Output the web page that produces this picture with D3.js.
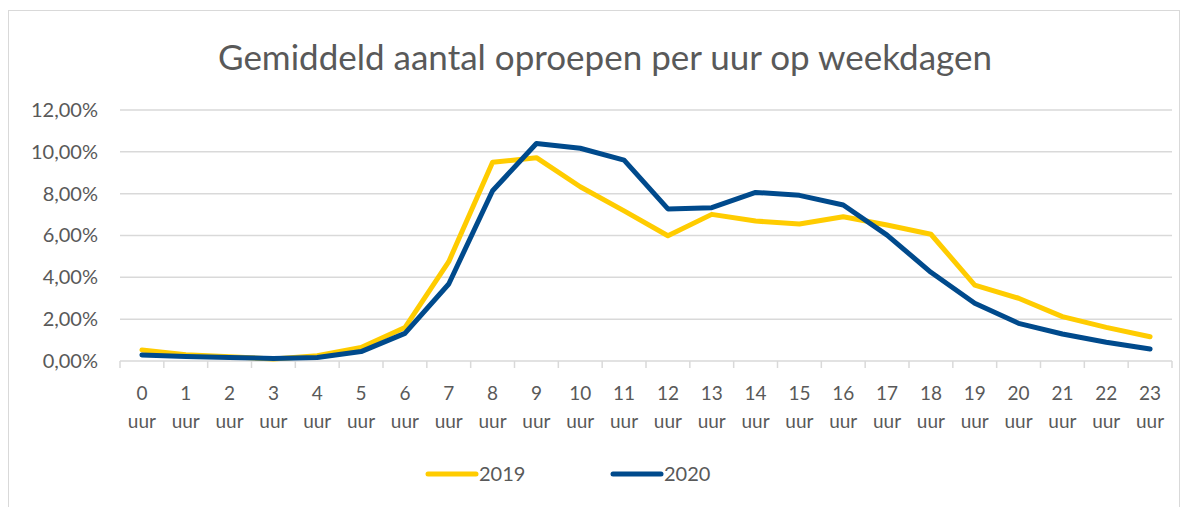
<!DOCTYPE html>
<html>
<head>
<meta charset="utf-8">
<script src="https://cdn.jsdelivr.net/npm/d3@7"></script>
<style>
  body { margin: 0; background: #fff; }
  text { font-family: Lato, "Open Sans", sans-serif; fill: #595959; }
</style>
</head>
<body>
<div id="line-chart"></div>
<script>
const hours = d3.range(0, 24).map(h => `${h}`);
const values2019 = [0.53, 0.3, 0.2, 0.1, 0.25, 0.65, 1.6, 4.75, 9.5, 9.72, 8.33, 7.18, 5.99, 7.01, 6.69, 6.55, 6.9, 6.5, 6.06, 3.63, 3.0, 2.12, 1.61, 1.16];
const values2020 = [0.29, 0.22, 0.17, 0.12, 0.17, 0.45, 1.32, 3.68, 8.14, 10.4, 10.17, 9.6, 7.27, 7.33, 8.06, 7.92, 7.46, 6.02, 4.24, 2.76, 1.8, 1.29, 0.9, 0.57];
const yTicks = [0, 2, 4, 6, 8, 10, 12];
const seriesNames = ["2019", "2020"];
const seriesColors = ["#FFCC00", "#004A8C"];

const W = 1187, H = 507;
const margin = { left: 120, right: 15, top: 110, bottom: 146 };
const width = W - margin.left - margin.right;
const height = H - margin.top - margin.bottom;

const svg = d3.select("#line-chart").append("svg")
    .attr("width", W)
    .attr("height", H);

// chart frame
svg.append("rect")
    .attr("x", 8.5).attr("y", 10.5)
    .attr("width", 1171).attr("height", 510)
    .attr("fill", "none").attr("stroke", "#D9D9D9");

svg.append("text")
    .attr("x", 605).attr("y", 70)
    .attr("text-anchor", "middle")
    .style("font-size", "35px")
    .text("Gemiddeld aantal oproepen per uur op weekdagen");

const g = svg.append("g").attr("transform", `translate(${margin.left}, ${margin.top})`);

const xScale = d3.scaleBand().domain(hours).range([0, width]);
const yScale = d3.scaleLinear().domain([0, 12]).range([height, 0]);

// gridlines
g.append("g").selectAll("line").data(yTicks.slice(1)).join("line")
    .attr("x1", 0).attr("x2", width)
    .attr("y1", d => yScale(d)).attr("y2", d => yScale(d))
    .attr("stroke", "#D9D9D9").attr("stroke-width", 1.5);

// y axis labels
const fmt = v => v.toFixed(2).replace(".", ",") + "%";
const yAxisCall = d3.axisLeft(yScale).tickValues(yTicks).tickFormat(fmt).tickSize(0).tickPadding(22);
const yAxis = g.append("g").call(yAxisCall);
yAxis.select(".domain").remove();
yAxis.selectAll("text").style("font-size", "20px").style("font-family", "Lato, sans-serif").attr("fill", "#595959");

// x axis baseline and boundary ticks
const xAxis = g.append("g").attr("transform", `translate(0, ${height})`);
xAxis.append("line").attr("x1", 0).attr("x2", width)
    .attr("stroke", "#D9D9D9").attr("stroke-width", 1.5);
xAxis.selectAll("line.tick").data(hours.concat(["end"])).join("line")
    .attr("class", "tick")
    .attr("x1", (d, i) => i * xScale.bandwidth()).attr("x2", (d, i) => i * xScale.bandwidth())
    .attr("y1", 0).attr("y2", 7)
    .attr("stroke", "#D9D9D9").attr("stroke-width", 1.5);
const xl = xAxis.selectAll("text.lbl").data(hours).join("text")
    .attr("class", "lbl")
    .attr("text-anchor", "middle")
    .style("font-size", "19px");
xl.append("tspan").attr("x", d => xScale(d) + xScale.bandwidth() / 2).attr("y", 39).text(d => d);
xl.append("tspan").attr("x", d => xScale(d) + xScale.bandwidth() / 2).attr("y", 67).text("uur");

// lines
const line = d3.line()
    .x((d, i) => xScale(hours[i]) + xScale.bandwidth() / 2)
    .y(d => yScale(d));

[values2019, values2020].forEach((vals, i) => {
    g.append("path")
        .attr("fill", "none")
        .attr("stroke", seriesColors[i])
        .attr("stroke-width", 5)
        .attr("stroke-linejoin", "round")
        .attr("stroke-linecap", "round")
        .attr("d", line(vals));
});

// legend
const legendX = [428, 613];
const legend = svg.append("g");
seriesNames.forEach((name, i) => {
    legend.append("line")
        .attr("x1", legendX[i]).attr("x2", legendX[i] + 48)
        .attr("y1", 474).attr("y2", 474)
        .attr("stroke", seriesColors[i]).attr("stroke-width", 5)
        .attr("stroke-linecap", "round");
    legend.append("text")
        .attr("x", legendX[i] + 51).attr("y", 481)
        .style("font-size", "20px")
        .text(name);
});
</script>
</body>
</html>
